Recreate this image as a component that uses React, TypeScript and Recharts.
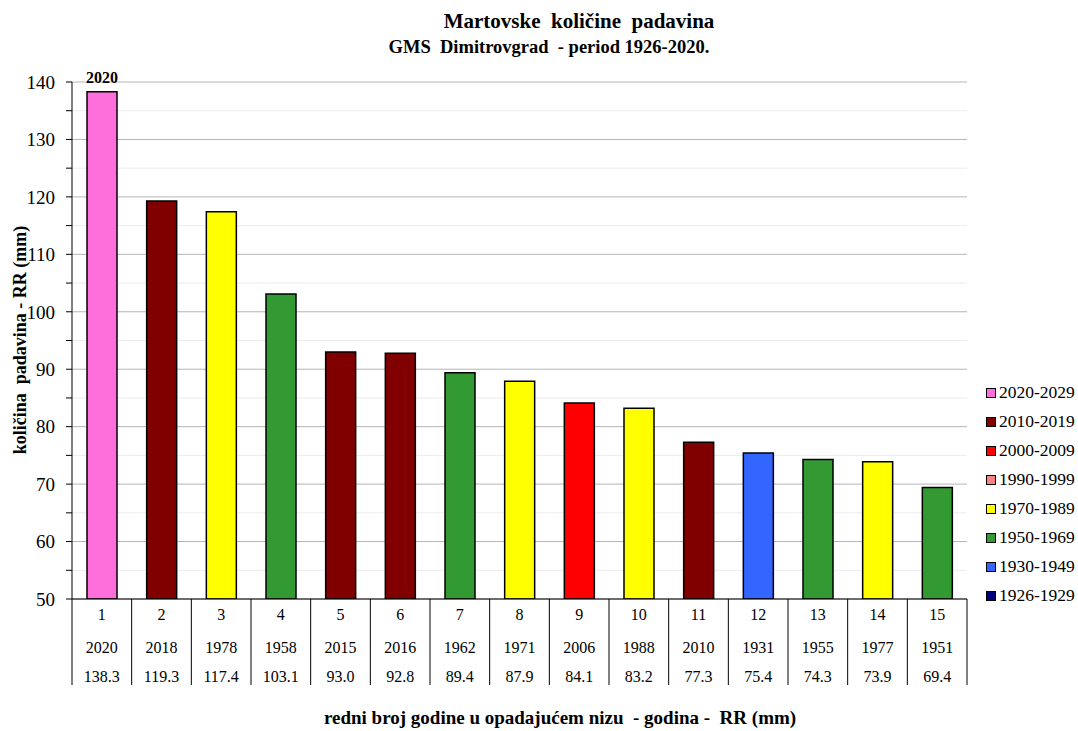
import { BarChart, Bar, XAxis, YAxis, CartesianGrid, Cell, LabelList } from 'recharts';

const ranks = [1, 2, 3, 4, 5, 6, 7, 8, 9, 10, 11, 12, 13, 14, 15];
const years = [2020, 2018, 1978, 1958, 2015, 2016, 1962, 1971, 2006, 1988, 2010, 1931, 1955, 1977, 1951];
const rainfall = [138.3, 119.3, 117.4, 103.1, 93.0, 92.8, 89.4, 87.9, 84.1, 83.2, 77.3, 75.4, 74.3, 73.9, 69.4];

const periods = ['2020-2029', '2010-2019', '2000-2009', '1990-1999', '1970-1989', '1950-1969', '1930-1949', '1926-1929'];
const periodStart = [2020, 2010, 2000, 1990, 1970, 1950, 1930, 1926];
const periodColors = ['#ff6fdc', '#800000', '#ff0000', '#ff8080', '#ffff00', '#339933', '#3366ff', '#000080'];

const majorTicks = [50, 60, 70, 80, 90, 100, 110, 120, 130, 140];
const minorTicks = [55, 65, 75, 85, 95, 105, 115, 125, 135];

const FONT = '"Liberation Serif", "Times New Roman", serif';
const W = 1078;
const H = 731;
const PLOT_LEFT = 72;
const PLOT_RIGHT = 967;
const BAND = (PLOT_RIGHT - PLOT_LEFT) / ranks.length;

const colorFor = (y: number) => {
  const i = periodStart.findIndex((s) => y >= s);
  return periodColors[i < 0 ? periodColors.length - 1 : i];
};

const data = ranks.map((r, i) => ({
  rank: r,
  year: years[i],
  rr: rainfall[i],
  top: i === 0 ? String(years[i]) : '',
}));

function TableTick(props: any) {
  const { x, y, payload, index } = props;
  const d = data[index];
  const left = x - BAND / 2;
  const right = x + BAND / 2;
  return (
    <g>
      <line x1={left} y1={y} x2={left} y2={y + 86} stroke="#000" strokeWidth={1} />
      {index === ranks.length - 1 && (
        <line x1={right} y1={y} x2={right} y2={y + 86} stroke="#000" strokeWidth={1} />
      )}
      <text x={x} y={y + 21} textAnchor="middle" fontFamily={FONT} fontSize={16} fill="#000">
        {payload.value}
      </text>
      <text x={x} y={y + 54} textAnchor="middle" fontFamily={FONT} fontSize={16} fill="#000">
        {d.year}
      </text>
      <text x={x} y={y + 83} textAnchor="middle" fontFamily={FONT} fontSize={16} fill="#000">
        {d.rr.toFixed(1)}
      </text>
    </g>
  );
}

function PeriodLegend() {
  return (
    <div style={{ position: 'absolute', left: 986, top: 378, fontFamily: FONT, fontSize: 17.5, color: '#000' }}>
      {periods.map((p, i) => (
        <div key={p} style={{ display: 'flex', alignItems: 'center', height: 29, whiteSpace: 'nowrap' }}>
          <span
            style={{
              width: 8,
              height: 8,
              background: periodColors[i],
              border: '1px solid #000',
              marginRight: 3,
              display: 'inline-block',
            }}
          />
          {p}
        </div>
      ))}
    </div>
  );
}

const titleStyle = {
  position: 'absolute' as const,
  textAlign: 'center' as const,
  fontWeight: 'bold',
  fontSize: 18,
  lineHeight: '26px',
  whiteSpace: 'pre' as const,
  width: 600,
};

export default function App() {
  return (
    <div style={{ position: 'relative', width: W, height: H, background: '#fff', fontFamily: FONT }}>
      <style>{`body { margin: 0; }`}</style>
      <div style={{ ...titleStyle, left: 579 - 300, top: 8, fontSize: 21 }}>
        {'Martovske  količine  padavina'}
      </div>
      <div style={{ ...titleStyle, left: 549 - 300, top: 34, fontSize: 18.5 }}>
        {'GMS  Dimitrovgrad  - period 1926-2020.'}
      </div>
      <div style={{ ...titleStyle, left: 560 - 300, top: 705, fontSize: 19 }}>
        {'redni broj godine u opadajućem nizu  - godina -  RR (mm)'}
      </div>
      <div
        style={{
          ...titleStyle,
          left: 20 - 300,
          top: 340 - 13,
          transform: 'rotate(-90deg)',
          transformOrigin: '300px 13px',
        }}
      >
        {'količina  padavina - RR (mm)'}
      </div>
      <BarChart
        width={W}
        height={H}
        data={data}
        barCategoryGap="50%"
        margin={{ top: 82, right: W - PLOT_RIGHT, bottom: 0, left: 0 }}
        style={{ position: 'absolute', left: 0, top: 0 }}
      >
        <CartesianGrid vertical={false} horizontalValues={minorTicks} stroke="#ececec" strokeWidth={1} />
        <CartesianGrid vertical={false} horizontalValues={majorTicks} stroke="#b5b5b5" strokeWidth={1} />
        <XAxis
          dataKey="rank"
          height={132}
          axisLine={{ stroke: '#000', strokeWidth: 1 }}
          tickLine={false}
          tickSize={0}
          tickMargin={0}
          interval={0}
          tick={<TableTick />}
        />
        <YAxis
          width={PLOT_LEFT}
          domain={[50, 140]}
          ticks={[...majorTicks, ...minorTicks].sort((a, b) => a - b)}
          tickFormatter={(v: number) => (v % 10 === 0 ? String(v) : '')}
          interval={0}
          axisLine={{ stroke: '#000', strokeWidth: 1 }}
          tickLine={{ stroke: '#000' }}
          tickSize={6}
          tickMargin={11}
          tick={{ fontFamily: FONT, fontSize: 19, fill: '#000' }}
          allowDataOverflow
        />
        <Bar dataKey="rr" barSize={30} stroke="#000" strokeWidth={1.5} isAnimationActive={false}>
          {data.map((d, i) => (
            <Cell key={`c-${i}`} fill={colorFor(d.year)} />
          ))}
          <LabelList
            dataKey="top"
            position="top"
            offset={9}
            style={{ fontFamily: FONT, fontSize: 16, fontWeight: 'bold', fill: '#000' }}
          />
        </Bar>
      </BarChart>
      <PeriodLegend />
    </div>
  );
}
